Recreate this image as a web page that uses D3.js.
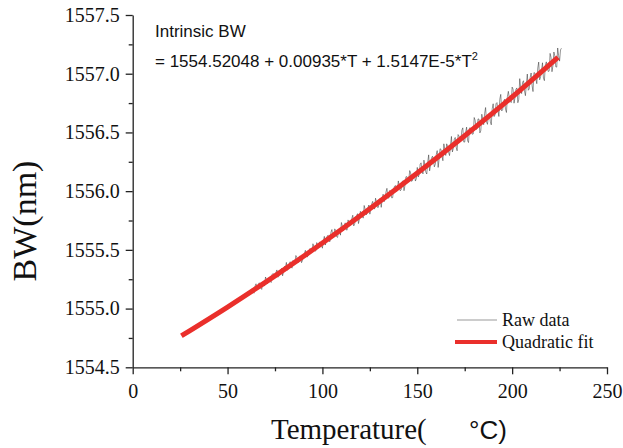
<!DOCTYPE html>
<html>
<head>
<meta charset="utf-8">
<script src="https://cdn.jsdelivr.net/npm/d3@7"></script>
<style>
  body { margin: 0; background: #fff; }
  #root { width: 623px; height: 448px; }
</style>
</head>
<body>
<div id="root"></div>
<script>
// ---- data ----
var xTicks = [0, 50, 100, 150, 200, 250];
var xTickLabels = ['0', '50', '100', '150', '200', '250'];
var xMinor = [25, 75, 125, 175, 225];
var yTicks = [1554.5, 1555.0, 1555.5, 1556.0, 1556.5, 1557.0, 1557.5];
var yTickLabels = ['1554.5', '1555.0', '1555.5', '1556.0', '1556.5', '1557.0', '1557.5'];
var yMinor = [1554.75, 1555.25, 1555.75, 1556.25, 1556.75, 1557.25];

// quadratic fit curve (red)
var fitT  = [25.7, 50, 75, 100, 125, 150, 175, 200, 224.2];
var fitBW = [1554.768, 1555.013, 1555.279, 1555.558, 1555.850, 1556.154, 1556.472, 1556.802, 1557.140];

// raw data, one sample every half degree from 63 to 226
var rawT = d3.range(63, 226.5, 0.5);
var rawBW = [
  1555.170, 1555.138, 1555.131, 1555.191, 1555.211, 1555.172, 1555.172, 1555.218, 1555.217, 1555.176,
  1555.163, 1555.219, 1555.230, 1555.192, 1555.269, 1555.246, 1555.212, 1555.245, 1555.255, 1555.233,
  1555.222, 1555.291, 1555.299, 1555.263, 1555.268, 1555.306, 1555.329, 1555.267, 1555.274, 1555.315,
  1555.330, 1555.342, 1555.279, 1555.314, 1555.360, 1555.345, 1555.393, 1555.326, 1555.340, 1555.380,
  1555.399, 1555.355, 1555.344, 1555.409, 1555.399, 1555.390, 1555.452, 1555.436, 1555.391, 1555.395,
  1555.446, 1555.438, 1555.391, 1555.411, 1555.459, 1555.466, 1555.496, 1555.465, 1555.438, 1555.454,
  1555.499, 1555.512, 1555.483, 1555.485, 1555.552, 1555.528, 1555.490, 1555.490, 1555.562, 1555.540,
  1555.522, 1555.568, 1555.556, 1555.541, 1555.514, 1555.576, 1555.615, 1555.541, 1555.572, 1555.617,
  1555.625, 1555.574, 1555.570, 1555.650, 1555.673, 1555.615, 1555.610, 1555.679, 1555.663, 1555.612,
  1555.606, 1555.671, 1555.673, 1555.625, 1555.733, 1555.702, 1555.663, 1555.696, 1555.730, 1555.672,
  1555.668, 1555.755, 1555.736, 1555.708, 1555.723, 1555.767, 1555.795, 1555.704, 1555.723, 1555.773,
  1555.792, 1555.808, 1555.724, 1555.761, 1555.828, 1555.804, 1555.788, 1555.770, 1555.878, 1555.847,
  1555.798, 1555.805, 1555.858, 1555.882, 1555.804, 1555.848, 1555.892, 1555.913, 1555.864, 1555.847,
  1555.940, 1555.907, 1555.862, 1555.862, 1555.928, 1555.939, 1555.862, 1555.933, 1555.974, 1555.910,
  1555.930, 1555.993, 1556.024, 1555.946, 1555.940, 1556.006, 1555.994, 1555.943, 1555.944, 1556.012,
  1556.042, 1556.048, 1555.998, 1556.002, 1556.087, 1556.045, 1556.003, 1556.011, 1556.079, 1556.089,
  1556.004, 1556.047, 1556.122, 1556.124, 1556.080, 1556.091, 1556.175, 1556.156, 1556.083, 1556.090,
  1556.149, 1556.151, 1556.086, 1556.106, 1556.202, 1556.120, 1556.142, 1556.228, 1556.241, 1556.174,
  1556.147, 1556.264, 1556.220, 1556.162, 1556.146, 1556.245, 1556.309, 1556.173, 1556.221, 1556.281,
  1556.298, 1556.268, 1556.207, 1556.230, 1556.310, 1556.345, 1556.202, 1556.273, 1556.361, 1556.356,
  1556.302, 1556.259, 1556.403, 1556.356, 1556.304, 1556.403, 1556.380, 1556.330, 1556.303, 1556.387,
  1556.466, 1556.334, 1556.365, 1556.441, 1556.457, 1556.374, 1556.344, 1556.482, 1556.469, 1556.429,
  1556.434, 1556.519, 1556.539, 1556.418, 1556.418, 1556.501, 1556.545, 1556.430, 1556.414, 1556.538,
  1556.539, 1556.525, 1556.484, 1556.487, 1556.627, 1556.603, 1556.526, 1556.531, 1556.615, 1556.614,
  1556.496, 1556.517, 1556.655, 1556.614, 1556.566, 1556.662, 1556.712, 1556.590, 1556.569, 1556.647,
  1556.662, 1556.594, 1556.565, 1556.702, 1556.744, 1556.635, 1556.650, 1556.744, 1556.754, 1556.692,
  1556.636, 1556.783, 1556.824, 1556.683, 1556.694, 1556.767, 1556.782, 1556.697, 1556.670, 1556.806,
  1556.850, 1556.794, 1556.774, 1556.754, 1556.886, 1556.868, 1556.749, 1556.796, 1556.868, 1556.879,
  1556.753, 1556.782, 1556.958, 1556.879, 1556.831, 1556.927, 1556.940, 1556.854, 1556.813, 1556.911,
  1556.997, 1556.859, 1556.870, 1556.967, 1557.006, 1556.901, 1556.848, 1557.010, 1557.006, 1556.958,
  1556.915, 1557.048, 1557.099, 1556.948, 1556.973, 1557.032, 1557.093, 1556.962, 1556.941, 1557.071,
  1557.101, 1557.059, 1557.019, 1557.022, 1557.173, 1557.139, 1557.017, 1557.068, 1557.185, 1557.152,
  1557.059, 1557.056, 1557.219, 1557.154, 1557.107, 1557.203, 1557.217
];

function drawChart () {

  var width = 623;
  var height = 448;
  var serif = '"Liberation Serif", "Times New Roman", serif';
  var sans = '"Liberation Sans", Arial, sans-serif';

  var x = d3.scaleLinear().domain([0, 250]).range([132.7, 607]);
  var y = d3.scaleLinear().domain([1554.5, 1557.5]).range([367.3, 15]);

  var svg = d3.select('#root')
    .append('svg')
      .attr('width', width)
      .attr('height', height)
      .style('background', '#fff');

  // data lines
  var raw = rawT.map(function(t, i) { return {t: t, v: rawBW[i]}; });
  var fit = fitT.map(function(t, i) { return {t: t, v: fitBW[i]}; });

  var line = d3.line()
    .x(function(d) { return x(d.t); })
    .y(function(d) { return y(d.v); });

  svg.append('path')
    .datum(raw)
    .attr('d', line)
    .attr('fill', 'none')
    .attr('stroke', '#2a2a2a')
    .attr('stroke-width', 0.5);

  svg.append('path')
    .datum(fit)
    .attr('d', line.curve(d3.curveMonotoneX))
    .attr('fill', 'none')
    .attr('stroke', '#ea2f2b')
    .attr('stroke-width', 5);

  // axes: major + minor ticks
  var xAxis = svg.append('g')
    .attr('transform', 'translate(0,' + y(1554.5) + ')')
    .call(d3.axisBottom(x)
      .tickValues(xTicks)
      .tickFormat(function(d, i) { return xTickLabels[i]; })
      .tickSize(7)
      .tickSizeOuter(0));

  svg.append('g')
    .attr('transform', 'translate(0,' + y(1554.5) + ')')
    .call(d3.axisBottom(x).tickValues(xMinor).tickFormat('').tickSize(4).tickSizeOuter(0))
    .select('.domain').remove();

  var yAxis = svg.append('g')
    .attr('transform', 'translate(' + x(0) + ',0)')
    .call(d3.axisLeft(y)
      .tickValues(yTicks)
      .tickFormat(function(d, i) { return yTickLabels[i]; })
      .tickSize(7)
      .tickSizeOuter(0));

  svg.append('g')
    .attr('transform', 'translate(' + x(0) + ',0)')
    .call(d3.axisLeft(y).tickValues(yMinor).tickFormat('').tickSize(4).tickSizeOuter(0))
    .select('.domain').remove();

  svg.selectAll('.domain, .tick line')
    .attr('stroke', '#222')
    .attr('stroke-width', 1.3);

  xAxis.selectAll('text')
    .style('font-family', serif)
    .style('font-size', '20px')
    .attr('fill', '#111')
    .attr('dy', '1.05em');

  yAxis.selectAll('text')
    .style('font-family', serif)
    .style('font-size', '20px')
    .attr('fill', '#111')
    .attr('x', -13);

  // axis titles
  var xt = svg.append('text')
    .attr('x', 271)
    .attr('y', 439)
    .style('font-family', serif)
    .style('font-size', '29px')
    .attr('fill', '#111');
  xt.append('tspan').text('Temperature(');
  xt.append('tspan')
    .attr('x', 469)
    .style('font-family', sans)
    .style('font-size', '26px')
    .text('\u00b0C)');

  svg.append('text')
    .attr('transform', 'translate(36,221) rotate(-90)')
    .attr('text-anchor', 'middle')
    .style('font-family', serif)
    .style('font-size', '34px')
    .attr('fill', '#111')
    .text('BW(nm)');

  // equation annotation
  svg.append('text')
    .attr('x', 155)
    .attr('y', 37)
    .style('font-family', sans)
    .style('font-size', '17px')
    .attr('fill', '#111')
    .text('Intrinsic BW');

  var eq = svg.append('text')
    .attr('x', 155)
    .attr('y', 67)
    .style('font-family', sans)
    .style('font-size', '17px')
    .attr('fill', '#111');
  eq.append('tspan').text('= 1554.52048 + 0.00935*T + 1.5147E-5*T');
  eq.append('tspan')
    .attr('dy', -7)
    .style('font-size', '11px')
    .text('2');

  // legend
  var legend = [
    {label: 'Raw data', color: '#999', w: 1, x1: 457, y: 320},
    {label: 'Quadratic fit', color: '#ea2f2b', w: 4, x1: 455, y: 342}
  ];
  var lg = svg.selectAll('.legend')
    .data(legend)
    .enter()
    .append('g')
      .attr('class', 'legend');
  lg.append('line')
    .attr('x1', function(d) { return d.x1; })
    .attr('x2', 497)
    .attr('y1', function(d) { return d.y; })
    .attr('y2', function(d) { return d.y; })
    .attr('stroke', function(d) { return d.color; })
    .attr('stroke-width', function(d) { return d.w; });
  lg.append('text')
    .attr('x', 502)
    .attr('y', function(d) { return d.y + 6; })
    .style('font-family', serif)
    .style('font-size', '18px')
    .attr('fill', '#111')
    .text(function(d) { return d.label; });

}

drawChart();
</script>
</body>
</html>
